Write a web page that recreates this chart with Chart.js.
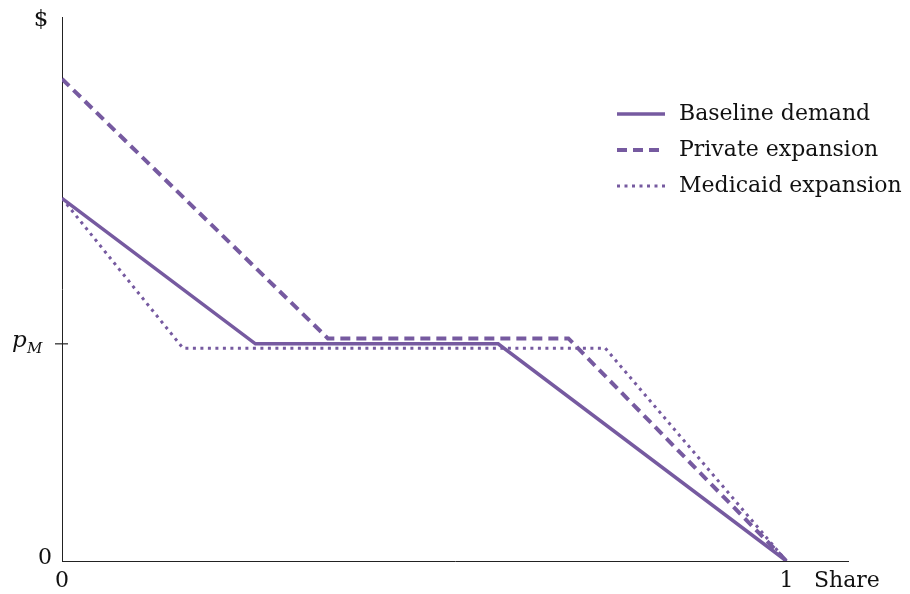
<!DOCTYPE html>
<html>
<head>
<meta charset="utf-8">
<script src="https://cdn.jsdelivr.net/npm/chart.js@4.4.1/dist/chart.umd.min.js"></script>
<style>
  html, body { margin: 0; padding: 0; background: #fff; }
  #wrap { width: 910px; height: 594px; }
</style>
</head>
<body>
<div id="wrap"><canvas id="demandChart"></canvas></div>
<script>
// share on x (0..1), price on y with p_M = 1
const baselineX = [0, 0.267, 0.602, 1];
const baselineY = [1.67, 1, 1, 0];
const privateX = [0, 0.367, 0.699, 1];
const privateY = [2.22, 1.025, 1.025, 0];
const medicaidX = [0, 0.167, 0.75, 1];
const medicaidY = [1.67, 0.98, 0.98, 0];

const seriesNames = ['Baseline demand', 'Private expansion', 'Medicaid expansion'];
const xTickValues = [0, 1];
const xTickLabels = ['0', '1'];
const yTickValues = [0, 1];
const yTickLabels = ['0', 'p_M'];

const purple = '#765aa0';
const serif = '"DejaVu Serif", serif';

function toPoints(xs, ys) {
  return xs.map((x, i) => ({ x: x, y: ys[i] }));
}

const styles = [
  { width: 3.5, dash: [] },
  { width: 4, dash: [10, 6] },
  { width: 3, dash: [3, 4.5] }
];

const labelPlugin = {
  id: 'labels',
  afterDraw(chart) {
    const ctx = chart.ctx;
    const xs = chart.scales.x;
    const ys = chart.scales.y;
    const area = chart.chartArea;
    ctx.save();
    ctx.fillStyle = '#111';
    ctx.font = '22px ' + serif;

    // x tick labels
    ctx.textAlign = 'center';
    ctx.textBaseline = 'top';
    xTickValues.forEach((v, i) => {
      ctx.fillText(xTickLabels[i], xs.getPixelForValue(v), area.bottom + 9);
    });
    ctx.textAlign = 'left';
    ctx.fillText('Share', area.right - 34, area.bottom + 9);

    // y tick labels
    ctx.textBaseline = 'middle';
    yTickValues.forEach((v, i) => {
      const py = ys.getPixelForValue(v);
      if (yTickLabels[i] === 'p_M') {
        ctx.strokeStyle = '#222';
        ctx.lineWidth = 1.2;
        ctx.beginPath();
        ctx.moveTo(area.left - 7, py);
        ctx.lineTo(area.left + 6, py);
        ctx.stroke();
        ctx.font = 'italic 23px ' + serif;
        ctx.textAlign = 'left';
        ctx.fillText('p', 12, py - 3);
        ctx.font = 'italic 15px ' + serif;
        ctx.fillText('M', 27, py + 5);
      } else {
        ctx.font = '22px ' + serif;
        ctx.textAlign = 'right';
        ctx.fillText(yTickLabels[i], area.left - 10, py - 3);
      }
    });

    // y axis title
    ctx.font = '23px ' + serif;
    ctx.textAlign = 'center';
    ctx.textBaseline = 'middle';
    ctx.fillText('$', area.left - 21, area.top + 3);

    // legend
    const lx = 617, ly = 114, gap = 36;
    seriesNames.forEach((name, i) => {
      const y = ly + i * gap;
      ctx.strokeStyle = purple;
      ctx.lineWidth = styles[i].width;
      ctx.setLineDash(styles[i].dash);
      ctx.beginPath();
      ctx.moveTo(lx, y);
      ctx.lineTo(lx + 48, y);
      ctx.stroke();
      ctx.setLineDash([]);
      ctx.fillStyle = '#111';
      ctx.font = '22px ' + serif;
      ctx.textAlign = 'left';
      ctx.textBaseline = 'middle';
      ctx.fillText(name, lx + 62, y);
    });
    ctx.restore();
  }
};

const data = {
  datasets: [
    { label: seriesNames[0], data: toPoints(baselineX, baselineY) },
    { label: seriesNames[1], data: toPoints(privateX, privateY) },
    { label: seriesNames[2], data: toPoints(medicaidX, medicaidY) }
  ].map((d, i) => Object.assign(d, {
    borderColor: purple,
    borderWidth: styles[i].width,
    borderDash: styles[i].dash,
    borderCapStyle: 'butt',
    borderJoinStyle: 'miter',
    pointRadius: 0,
    fill: false,
    tension: 0
  }))
};

new Chart(document.getElementById('demandChart'), {
  type: 'line',
  data: data,
  options: {
    responsive: true,
    maintainAspectRatio: false,
    animation: false,
    layout: { padding: { left: 54, right: 62, top: 17, bottom: 25 } },
    plugins: { legend: { display: false }, tooltip: { enabled: false } },
    scales: {
      x: {
        type: 'linear',
        min: 0,
        max: 1.085,
        grid: { display: false },
        border: { display: true, color: '#222', width: 1 },
        ticks: { display: false }
      },
      y: {
        type: 'linear',
        min: 0,
        max: 2.505,
        grid: { display: false },
        border: { display: true, color: '#222', width: 1 },
        ticks: { display: false }
      }
    }
  },
  plugins: [labelPlugin]
});
</script>
</body>
</html>
